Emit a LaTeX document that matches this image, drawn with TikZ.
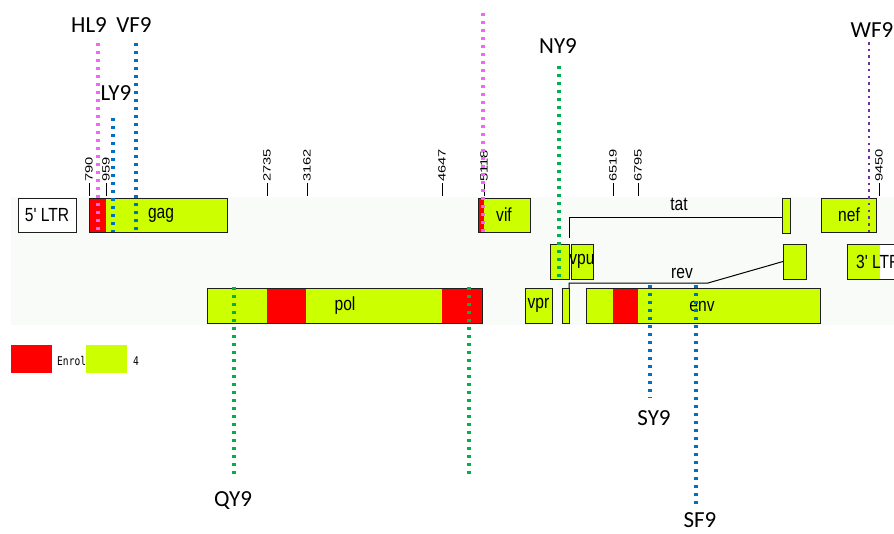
\documentclass[tikz,border=0pt]{standalone}
\usepackage{fontspec}
\setmainfont{Liberation Sans}
\newfontfamily\genefont[FakeStretch=0.82]{Liberation Sans}
\newfontfamily\tickfont[FakeStretch=1.4]{Liberation Sans}
\newfontfamily\epifont{Carlito}
\newfontfamily\legfont[FakeStretch=0.8]{DejaVu Sans Mono}

\definecolor{lime}{RGB}{204,255,0}
\definecolor{exred}{RGB}{255,0,0}
\definecolor{band}{RGB}{249,251,249}
\definecolor{edge}{RGB}{30,30,30}
\definecolor{epimag}{RGB}{242,102,242}
\definecolor{epiblue}{RGB}{0,112,192}
\definecolor{epigreen}{RGB}{0,176,80}
\definecolor{epipurple}{RGB}{112,48,160}

\tikzset{
  gbox/.style={draw=edge, line width=1pt, fill=lime, inner sep=0pt, outer sep=0pt, anchor=north west},
  wbox/.style={gbox, fill=white},
  glabel/.style={inner sep=0pt, font=\genefont\fontsize{19}{19}\selectfont, text=black},
  ticklabel/.style={rotate=90, anchor=west, inner sep=0pt, font=\tickfont\fontsize{10.5}{10.5}\selectfont},
  tickline/.style={draw=black, line width=0.9pt},
  epilabel/.style={inner sep=0pt, font=\epifont\fontsize{23}{23}\selectfont},
  epi/.style={line width=3.3pt, dash pattern=on 3.3pt off 4.7pt},
  epismall/.style={line width=2.6pt, dash pattern=on 2.6pt off 4.1pt},
  spliceline/.style={draw=black, line width=1pt},
  legtext/.style={anchor=west, inner sep=0pt, font=\legfont\fontsize{12}{12}\selectfont},
}

\begin{document}
\begin{tikzpicture}[x=1pt,y=-1pt]
\useasboundingbox (0,0) rectangle (894,533);
\clip (0,0) rectangle (894,533);

% genome band
\fill[band] (11,197) rectangle (894,325);

% ---- top row: 5' LTR, gag, vif, tat exon 2, nef
\node[wbox, minimum width=58pt, minimum height=34pt] (ltr5) at (18,198) {};
\node[glabel] at (ltr5.center) {5' LTR};

\node[gbox, minimum width=138pt, minimum height=34pt] (gag) at (89,198) {};
\fill[exred] (89.5,198.5) rectangle (106,231.5);
\draw[edge, line width=1pt] (gag.north west) rectangle (gag.south east);
\node[glabel] at (161,215) {gag};

\node[gbox, minimum width=52pt, minimum height=34pt] (vif) at (478,198) {};
\fill[exred] (478.5,198.5) rectangle (484,231.5);
\draw[edge, line width=1pt] (vif.north west) rectangle (vif.south east);
\node[glabel] at (504,215) {vif};

\node[gbox, minimum width=8pt, minimum height=35pt] (tat2) at (782,198) {};

\node[gbox, minimum width=55pt, minimum height=34pt] (nef) at (821,198) {};
\node[glabel] at (849,215) {nef};

% ---- middle row: vpu, rev exon 2, 3' LTR
\node[gbox, minimum width=19pt, minimum height=35pt] (vpuA) at (550,244) {};
\node[gbox, minimum width=22pt, minimum height=35pt] (vpu) at (571,244) {};
\node[glabel] at (vpu.center) {vpu};

\node[gbox, minimum width=23pt, minimum height=35pt] (rev2) at (783,244) {};

\node[gbox, minimum width=60pt, minimum height=35pt] (ltr3) at (847,244) {};
\fill[white] (880,244.5) rectangle (906,278.5);
\draw[edge, line width=1pt] (ltr3.north west) rectangle (ltr3.south east);
\node[glabel, anchor=west] at (856,262) {3' LTR};

% ---- bottom row: pol, vpr, tat/rev exon 1, env
\node[gbox, minimum width=275pt, minimum height=35pt] (pol) at (207,288) {};
\fill[exred] (267,288.5) rectangle (306,322.5);
\fill[exred] (442,288.5) rectangle (481.5,322.5);
\draw[edge, line width=1pt] (pol.north west) rectangle (pol.south east);
\node[glabel] at (345,306) {pol};

\node[gbox, minimum width=27pt, minimum height=35pt] (vpr) at (525,288) {};
\node[glabel] at (vpr.center) {vpr};

\node[gbox, minimum width=7pt, minimum height=35pt] (ex1) at (562,288) {};

\node[gbox, minimum width=234pt, minimum height=35pt] (env) at (586,288) {};
\fill[exred] (613,288.5) rectangle (638,322.5);
\draw[edge, line width=1pt] (env.north west) rectangle (env.south east);
\node[glabel] at (702,306) {env};

% ---- splice connectors
\coordinate (tatstart) at (569,238);
\coordinate (tatcorner) at (569,217);
\draw[spliceline] (tatstart) -- (tatcorner) -- (tat2.west |- tatcorner);
\node[glabel] at (679,204) {tat};

\coordinate (revcorner) at (569,283);
\coordinate (revbend) at (708,283);
\draw[spliceline] (ex1.north east) -- (revcorner) -- (revbend) -- (rev2.west);
\node[glabel] at (682,273) {rev};

% ---- position ticks
\foreach \nm/\x/\num in {t790/89/790, t959/106/959, t2735/267/2735, t3162/307/3162,
                        t4647/442/4647, t5118/484/5118, t6519/613/6519, t6795/638/6795,
                        t9450/879/9450}{
  \node[ticklabel] (\nm) at (\x,182) {\num};
  \draw[tickline] (\nm.west) ++(0,1) -- ++(0,13);
}

% ---- epitope markers
\node[epilabel] (HL9) at (89,25) {HL9};
\node[epilabel] (VF9) at (134,25) {VF9};
\node[epilabel] (LY9) at (116,93) {LY9};
\node[epilabel] (NY9) at (558,46) {NY9};
\node[epilabel] (WF9) at (872,30) {WF9};
\node[epilabel] (QY9) at (233,501) {QY9};
\node[epilabel] (SY9) at (654,418) {SY9};
\node[epilabel] (SF9) at (700,520) {SF9};

\coordinate (hl9a) at (98,43);   \coordinate (hl9b) at (98,232);
\coordinate (vf9a) at (136,43);  \coordinate (vf9b) at (136,232);
\coordinate (ly9a) at (113,118); \coordinate (ly9b) at (113,232);
\coordinate (vifa) at (483,13);  \coordinate (vifb) at (483,232);
\coordinate (ny9a) at (559,66);  \coordinate (ny9b) at (559,277);
\coordinate (wf9a) at (869,42);  \coordinate (wf9b) at (869,232);
\coordinate (qy9a) at (234,287); \coordinate (qy9b) at (234,474);
\coordinate (polea) at (469,287); \coordinate (poleb) at (469,474);
\coordinate (sy9a) at (650,285); \coordinate (sy9b) at (650,398);
\coordinate (sf9a) at (696,285); \coordinate (sf9b) at (696,505);

\draw[epi, epimag] (hl9a) -- (hl9b);
\draw[epi, epiblue] (vf9a) -- (vf9b);
\draw[epi, epiblue] (ly9a) -- (ly9b);
\draw[epi, epimag] (vifa) -- (vifb);
\draw[epi, epigreen] (ny9a) -- (ny9b);
\draw[epismall, epipurple] (wf9a) -- (wf9b);
\draw[epi, epigreen] (qy9a) -- (qy9b);
\draw[epi, epigreen] (polea) -- (poleb);
\draw[epi, epiblue] (sy9a) -- (sy9b);
\draw[epi, epiblue] (sf9a) -- (sf9b);

% ---- legend
\node[legtext] (legA) at (57,361) {Enrol};
\fill[exred] (11,345) rectangle (52,373);
\node[fill=lime, inner sep=0pt, minimum width=41pt, minimum height=28pt, anchor=north west] (legB) at (86,345) {};
\node[legtext] (legC) at (133,361) {4};
\end{tikzpicture}
\end{document}
